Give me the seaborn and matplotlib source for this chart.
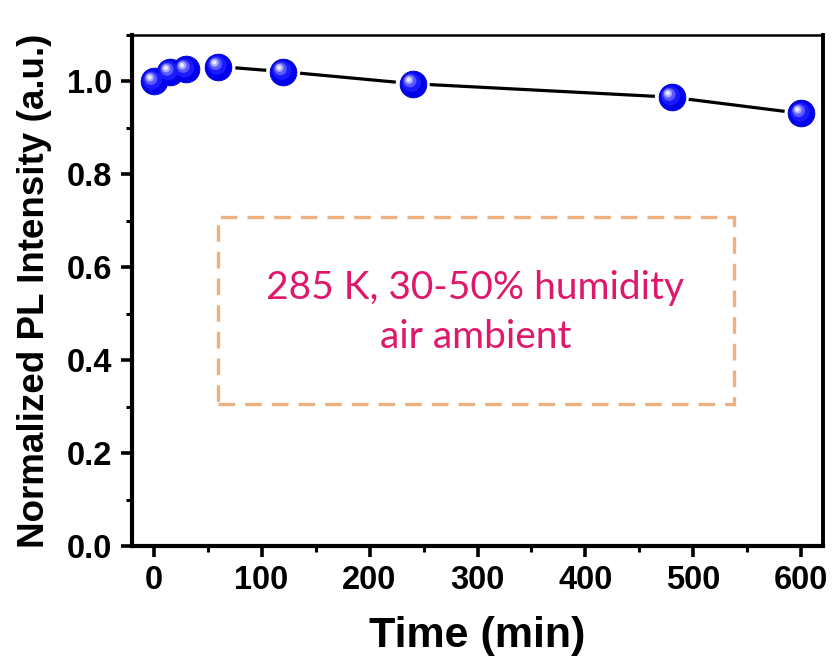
import matplotlib
matplotlib.use("Agg")
import matplotlib.pyplot as plt
import matplotlib.transforms as mtransforms
from matplotlib.patches import Rectangle
from matplotlib.ticker import MultipleLocator
import seaborn as sns
import pandas as pd

time_min = [0, 15, 30, 60, 120, 240, 480, 600]
intensity = [1.000, 1.020, 1.026, 1.032, 1.021, 0.995, 0.966, 0.931]
x_ticks = [0, 100, 200, 300, 400, 500, 600]
y_ticks = [0.0, 0.2, 0.4, 0.6, 0.8, 1.0]
note_lines = ["285 K, 30-50% humidity", "air ambient"]

df = pd.DataFrame({"t": time_min, "pl": intensity})

sns.set_theme(style="white")
plt.rcParams["font.family"] = ["Liberation Sans", "DejaVu Sans"]
plt.rcParams["text.color"] = "black"
plt.rcParams["axes.labelcolor"] = "black"
plt.rcParams["xtick.color"] = "black"
plt.rcParams["ytick.color"] = "black"

fig = plt.figure(figsize=(8.33, 6.59), dpi=100)
ax = fig.add_axes([0.1585, 0.1715, 0.8295, 0.7755])

sns.lineplot(data=df, x="t", y="pl", ax=ax, color="black", linewidth=2.3, zorder=2)
# white halo to gap the line around markers
sns.scatterplot(data=df, x="t", y="pl", ax=ax, s=600, color="white", edgecolor="none", zorder=3)
# main sphere
sns.scatterplot(data=df, x="t", y="pl", ax=ax, s=370, color="#0000EE", edgecolor="#0000C8", linewidth=0.6, zorder=4)
# shading layers (offset up-left)
for dx, dy, s, c in [(-1.0, 1.0, 190, "#1A1AFF"), (-2.0, 2.0, 85, "#5A5AFF"), (-2.7, 2.7, 34, "#A8A8FF"), (-2.9, 2.9, 10, "#E8E8FF")]:
    tr = mtransforms.offset_copy(ax.transData, fig=fig, x=dx, y=dy, units="points")
    ax.scatter(df["t"], df["pl"], s=s, color=c, edgecolor="none", zorder=5, transform=tr)

ax.set_xlim(-20, 620)
ax.set_ylim(0, 1.1)
ax.set_xticks(x_ticks)
ax.set_yticks(y_ticks)
ax.set_yticklabels([f"{v:.1f}" for v in y_ticks])
ax.xaxis.set_minor_locator(MultipleLocator(50))
ax.yaxis.set_minor_locator(MultipleLocator(0.1))

ax.tick_params(axis="both", which="major", direction="out", length=8, width=2.6,
               labelsize=23.5, pad=6, bottom=True, left=True, top=False, right=False)
ax.tick_params(axis="both", which="minor", direction="out", length=4.5, width=2.2,
               bottom=True, left=True, top=False, right=False)
for lab in ax.get_xticklabels() + ax.get_yticklabels():
    lab.set_fontweight("bold")

for side, w in [("left", 3.0), ("bottom", 3.0), ("right", 2.8), ("top", 1.8)]:
    ax.spines[side].set_visible(True)
    ax.spines[side].set_linewidth(w)
    ax.spines[side].set_color("black")

ax.set_xlabel("Time (min)", fontsize=31, fontweight="bold", labelpad=14)
ax.set_ylabel("Normalized PL Intensity (a.u.)", fontsize=26.5, fontweight="bold", labelpad=11)

box = Rectangle((60, 0.306), 478, 0.403, fill=False, edgecolor="#EDB07F",
                linewidth=2.4, linestyle=(0, (5, 3)), zorder=1)
ax.add_patch(box)
ax.text(298, 0.556, note_lines[0], ha="center", va="center", fontsize=28,
        color="#E0186C", family=["Lato", "DejaVu Sans"])
ax.text(298, 0.450, note_lines[1], ha="center", va="center", fontsize=28,
        color="#E0186C", family=["Lato", "DejaVu Sans"])

fig.savefig("out.png", dpi=100)
